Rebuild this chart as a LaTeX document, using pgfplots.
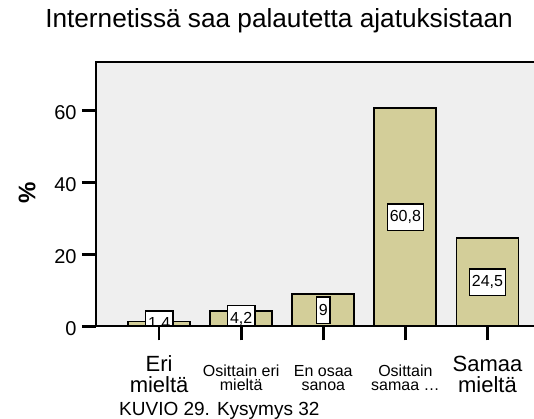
\documentclass[border=0pt]{standalone}
\usepackage{fontspec}
\setmainfont{Liberation Sans}
\usepackage{pgfplots}
\pgfplotsset{compat=1.18}
\definecolor{barfill}{RGB}{211,206,153}
\definecolor{plotbg}{RGB}{239,239,239}
\newcommand\catbig{\fontsize{22}{21}\selectfont}

\begin{document}
\begin{tikzpicture}
\begin{axis}[
    name=ax, at={(0,0)}, anchor=south west,
    scale only axis, width=454.6pt, height=264.5pt,
    xmin=-0.769, xmax=4.769, ymin=0, ymax=73.5,
    axis background/.style={fill=plotbg},
    axis on top, clip marker paths=true,
    axis line style={line width=2pt},
    tick style={line width=2.6pt, black},
    tick align=outside, tick pos=left,
    major tick length=14pt,
    /pgf/number format/assume math mode=true,
    ytick={0,20,40,60},
    yticklabel style={font=\fontsize{20}{20}\selectfont, anchor=east, inner sep=0pt, xshift=-5.3pt, yshift=-2.5pt},
    xtick={0,1,2,3,4},
    xticklabels={
        {\catbig\rule{0pt}{16pt}Eri\\[3.6pt]\catbig mieltä},
        {\rule{0pt}{20.7pt}Osittain eri\\mieltä},
        {\rule{0pt}{20.7pt}En osaa\\sanoa},
        {\rule{0pt}{20.7pt}Osittain\\samaa …},
        {\catbig\rule{0pt}{16pt}Samaa\\[3.6pt]\catbig mieltä}},
    xticklabel style={font=\fontsize{16}{14.7}\selectfont, align=center, anchor=north, inner sep=0pt, yshift=-14.8pt},
    title={Internetissä saa palautetta ajatuksistaan},
    title style={font=\fontsize{26.2}{26.2}\selectfont, at={(axis description cs:0.4026,1)}, anchor=base, yshift=28.5pt},
    ylabel={\%},
    ylabel style={font=\fontsize{24}{24}\selectfont\bfseries, at={(axis description cs:-0.1513,0.505)}, anchor=center},
    ybar, bar width=62pt,
    nodes near coords,
    visualization depends on={rawy/2 \as \halfy},
    every node near coord/.append style={
        font=\fontsize{16}{16}\selectfont, fill=white, draw=black, line width=1.6pt,
        anchor=center, inner xsep=2.5pt, inner ysep=0pt, minimum height=26.5pt,
        shift={(axis direction cs:0,-\halfy)},
        /pgf/number format/.cd, use comma, fixed, precision=1, assume math mode=true},
]
\addplot[fill=barfill, draw=black, line width=1.8pt] coordinates {(0,1.4) (1,4.2) (2,9) (3,60.8) (4,24.5)};
\end{axis}
\node[anchor=base west, inner sep=0pt, font=\fontsize{19}{19}\selectfont] at (23pt,-88.5pt) {KUVIO 29. Kysymys 32};
\pgfresetboundingbox
\path[use as bounding box] (-96pt,-92.5pt) rectangle (438pt,326.5pt);
\end{tikzpicture}
\end{document}
